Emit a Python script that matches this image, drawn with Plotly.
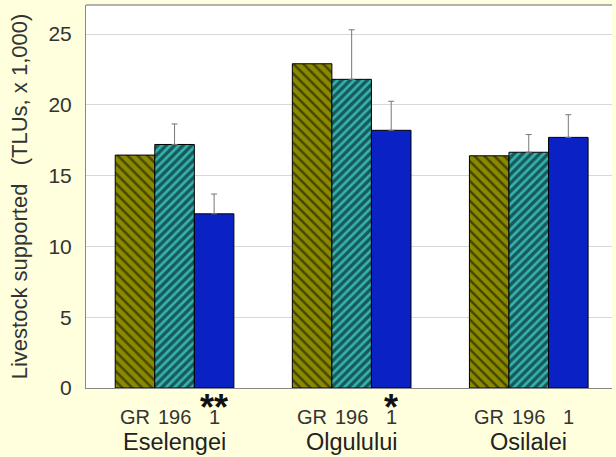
import plotly.graph_objects as go

# Study areas and the three estimates for each
sites = ["Eselengei", "Olgulului", "Osilalei"]
series_labels = ["GR", "196", "1"]
gr_values = [16.45, 22.9, 16.4]
y196_values = [17.2, 21.8, 16.65]
y196_err = [1.45, 3.5, 1.25]
y1_values = [12.3, 18.2, 17.7]
y1_err = [1.4, 2.05, 1.6]
significance = ["**", "*", ""]
y_ticks = [0, 5, 10, 15, 20, 25]

font_family = "Liberation Sans, Arial, sans-serif"
bargap = 0.33
bar_w = (1 - bargap) / 3

fig = go.Figure()
fig.add_trace(go.Bar(
    x=sites, y=gr_values, name="GR",
    marker=dict(color="#8A8A00", line=dict(color="black", width=1),
                pattern=dict(shape="\\", fgcolor="black", bgcolor="#8A8A00",
                             size=7, solidity=0.35)),
))
fig.add_trace(go.Bar(
    x=sites, y=y196_values, name="196",
    marker=dict(color="#33B3B0", line=dict(color="black", width=1),
                pattern=dict(shape="/", fgcolor="black", bgcolor="#33B3B0",
                             size=6, solidity=0.55)),
    error_y=dict(type="data", array=y196_err, arrayminus=[0] * 3,
                 color="#777777", thickness=1, width=3),
))
fig.add_trace(go.Bar(
    x=sites, y=y1_values, name="1",
    marker=dict(color="#0A22C4", line=dict(color="black", width=1)),
    error_y=dict(type="data", array=y1_err, arrayminus=[0] * 3,
                 color="#777777", thickness=1, width=3),
))

annotations = []
for i, site in enumerate(sites):
    for j, lab in enumerate(series_labels):
        annotations.append(dict(
            x=i + (j - 1) * bar_w, y=-0.076, xref="x", yref="paper",
            text=lab, showarrow=False, yanchor="middle",
            font=dict(size=20, color="#333333", family=font_family)))
    annotations.append(dict(
        x=i, y=-0.141, xref="x", yref="paper", text=site, showarrow=False,
        yanchor="middle", font=dict(size=23.5, color="#222222", family=font_family)))
    if significance[i]:
        annotations.append(dict(
            x=i + bar_w, y=-0.05, xref="x", yref="paper", text="<b>" + significance[i] + "</b>",
            showarrow=False, yanchor="middle",
            font=dict(size=36, color="#111111", family=font_family)))

fig.update_layout(
    width=616, height=457,
    margin=dict(l=86, r=4, t=5, b=69),
    paper_bgcolor="#FFFFDD", plot_bgcolor="white",
    barmode="group", bargap=bargap, bargroupgap=0,
    showlegend=False,
    annotations=annotations,
    font=dict(family=font_family),
)
fig.update_xaxes(showticklabels=False, showline=True, linecolor="#888888",
                 linewidth=1, ticks="", range=[-0.5, 2.47], mirror=False)
fig.update_yaxes(range=[0, 27.05], tickvals=y_ticks, showgrid=True,
                 gridcolor="#D8D8D8", gridwidth=1, zeroline=False,
                 showline=True, linecolor="#888888", linewidth=1,
                 tickfont=dict(size=21, color="#333333"), ticklabelstandoff=9,
                 title=dict(text="Livestock supported\u00a0\u00a0 (TLUs, x 1,000)",
                            font=dict(size=22, color="#333333"), standoff=14))
# thin top border of the plotting area
fig.add_shape(type="line", xref="paper", yref="paper", x0=0, x1=1, y0=1, y1=1,
              line=dict(color="#999999", width=1.5))

fig.write_html("out.html")
